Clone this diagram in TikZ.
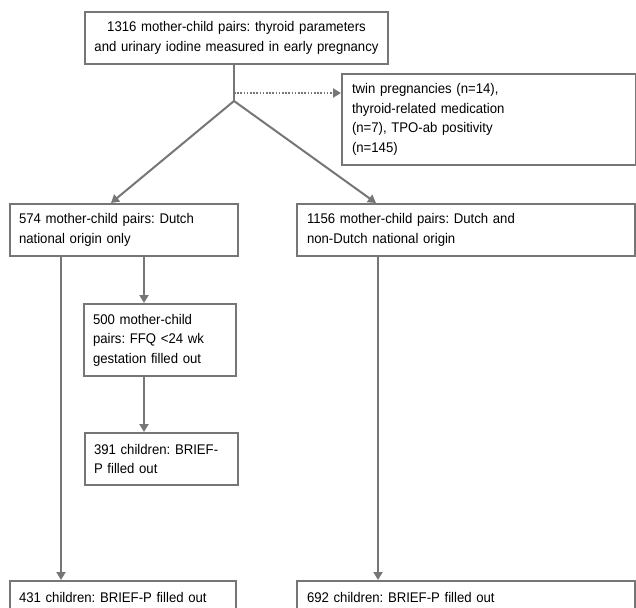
\documentclass[tikz,border=0pt]{standalone}
\usepackage{fontspec}
\setmainfont{Liberation Sans}[FakeStretch=0.94]
\usetikzlibrary{arrows.meta, positioning}
\definecolor{boxgray}{HTML}{767676}
\tikzset{
>={Triangle[width=9pt,length=8pt]}, % filled triangle heads
every node/.style={inner sep=1pt},
box/.style={draw=boxgray, line width=2pt, anchor=north west, align=left, inner xsep=9pt, inner ysep=0pt, font=\fontsize{14}{19.5}\selectfont\frenchspacing},
flow/.style={draw=boxgray, line width=2pt, ->},
drop/.style={flow, dash pattern=on 1.6pt off 1.6pt},
}
\begin{document}
\begin{tikzpicture}[x=1pt,y=-1pt]
  \clip (0,0) rectangle (636,607);
  \node[box, align=center, inner xsep=4pt, text width=295pt, minimum height=52pt] (all) at (84,11) {1316 mother-child pairs: thyroid parameters\\and urinary iodine measured in early pregnancy};
  \node[box, inner xsep=10pt, text width=274pt, minimum height=91pt] (excl) at (341,73) {twin pregnancies (n=14),\\thyroid-related medication\\(n=7), TPO-ab positivity\\(n=145)};
  \node[box, text width=210pt, minimum height=52pt] (dutch) at (9,203) {574 mother-child pairs: Dutch\\national origin only};
  \node[box, inner xsep=10pt, text width=318pt, minimum height=52pt] (mixed) at (296,203) {1156 mother-child pairs: Dutch and\\non-Dutch national origin};
  \node[box, text width=134pt, minimum height=72pt] (ffq) at (83,303) {500 mother-child\\pairs: FFQ <24 wk\\gestation filled out};
  \node[box, text width=135pt, minimum height=52pt] (ffqbrief) at (84,432) {391 children: BRIEF-\\P filled out};
  \node[box, text width=208pt, minimum height=32pt] (dutchbrief) at (9,580) {431 children: BRIEF-P filled out};
  \node[box, inner xsep=10pt, text width=318pt, minimum height=32pt] (mixedbrief) at (296,580) {692 children: BRIEF-P filled out};
  % branch points
  \coordinate (split) at (234,101);
  \coordinate (cut) at (234,93);
  \coordinate (l) at (61,0);
  \coordinate (m) at (144,0);
  \coordinate (r) at (378,0);
  \draw[draw=boxgray, line width=2pt] (all.south -| split) -- (split);
  \draw[drop] (cut) -- (cut -| excl.west);
  \draw[flow] (split) -- (dutch.north -| 111,0);
  \draw[flow] (split) -- (mixed.north -| 376,0);
  \draw[flow] (dutch.south -| l) -- (dutchbrief.north -| l);
  \draw[flow] (dutch.south -| m) -- (ffq.north -| m);
  \draw[flow] (ffq.south -| m) -- (ffqbrief.north -| m);
  \draw[flow] (mixed.south -| r) -- (mixedbrief.north -| r);
\end{tikzpicture}
\end{document}
